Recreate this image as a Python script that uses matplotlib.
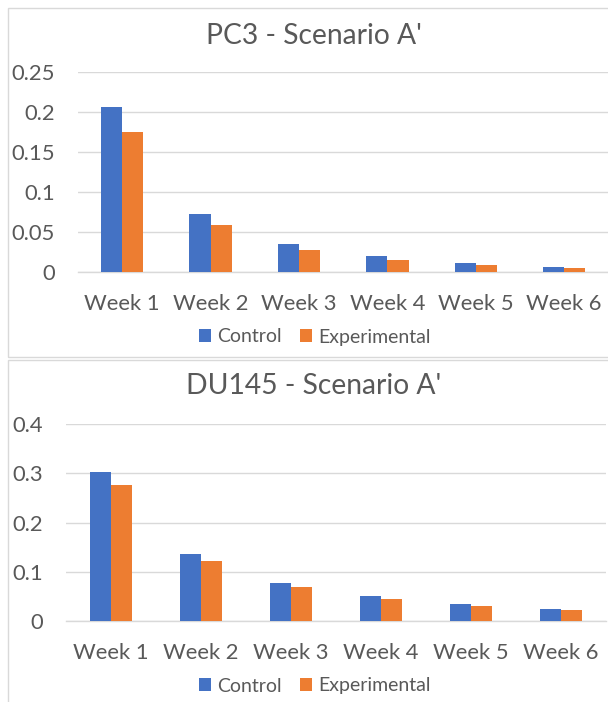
import numpy as np
import matplotlib
matplotlib.use("Agg")
import matplotlib.pyplot as plt
from matplotlib.patches import Rectangle

# -------- Data --------
weeks = ["Week 1", "Week 2", "Week 3", "Week 4", "Week 5", "Week 6"]
series_names = ["Control", "Experimental"]

pc3_control = [0.206, 0.0725, 0.0354, 0.020, 0.0117, 0.0070]
pc3_experimental = [0.175, 0.0588, 0.0280, 0.015, 0.0088, 0.0054]

du145_control = [0.303, 0.1365, 0.078, 0.051, 0.0358, 0.0257]
du145_experimental = [0.276, 0.122, 0.0696, 0.0446, 0.031, 0.0223]

pc3_ticks = [0, 0.05, 0.1, 0.15, 0.2, 0.25]
pc3_ticklabels = ["0", "0.05", "0.1", "0.15", "0.2", "0.25"]
du145_ticks = [0, 0.1, 0.2, 0.3, 0.4]
du145_ticklabels = ["0", "0.1", "0.2", "0.3", "0.4"]

# -------- Style --------
BLUE = "#4472C4"
ORANGE = "#ED7D31"
GRID = "#D9D9D9"
TEXT = "#595959"
plt.rcParams["font.family"] = ["Lato", "DejaVu Sans"]

W, H = 608, 702
fig = plt.figure(figsize=(W / 100, H / 100), dpi=100)


def px_axes(left, top, right, bottom):
    # pixel box (from top-left) -> figure fraction
    return fig.add_axes([left / W, 1 - bottom / H, (right - left) / W, (bottom - top) / H])


def draw_panel(ax, control, experimental, ticks, ticklabels, title, title_y, legend_y):
    x = np.arange(len(weeks))
    w = 0.2387
    ax.bar(x - w / 2, control, w, color=BLUE, label=series_names[0], zorder=3)
    ax.bar(x + w / 2, experimental, w, color=ORANGE, label=series_names[1], zorder=3)
    ax.set_xlim(-0.5, len(weeks) - 0.5)
    ax.set_ylim(0, ticks[-1])
    ax.set_yticks(ticks)
    ax.set_yticklabels(ticklabels)
    ax.set_xticks(x)
    ax.set_xticklabels(weeks)
    ax.yaxis.grid(True, color=GRID, linewidth=1.0, zorder=0)
    ax.set_axisbelow(True)
    for s in ["top", "right", "left"]:
        ax.spines[s].set_visible(False)
    ax.spines["bottom"].set_color(GRID)
    ax.spines["bottom"].set_linewidth(1.0)
    ax.tick_params(axis="both", length=0, colors=TEXT, labelsize=15.8)
    ax.tick_params(axis="y", pad=16.5)
    ax.tick_params(axis="x", pad=15.5)
    fig.text(314 / W, 1 - title_y / H, title, ha="center", va="center",
             fontsize=20.3, color=TEXT)
    leg = ax.legend(loc="center", bbox_to_anchor=(315 / W, 1 - legend_y / H),
                    bbox_transform=fig.transFigure, ncol=2, frameon=False,
                    fontsize=14, handlelength=0.62, handleheight=0.62,
                    handletextpad=0.3, columnspacing=0.95, borderaxespad=0)
    for t in leg.get_texts():
        t.set_color(TEXT)


# -------- Panel frames --------
fig.patches.append(Rectangle((8 / W, 1 - 357.3 / H), 700 / W, 349.3 / H,
                             transform=fig.transFigure, fill=False,
                             edgecolor=GRID, linewidth=1.0))
fig.patches.append(Rectangle((8 / W, 1 - 760 / H), 700 / W, 399.7 / H,
                             transform=fig.transFigure, fill=False,
                             edgecolor=GRID, linewidth=1.0))

# -------- Top: PC3 --------
ax1 = px_axes(78, 72, 608.4, 272.3)
draw_panel(ax1, pc3_control, pc3_experimental, pc3_ticks, pc3_ticklabels,
           "PC3 - Scenario A'", 35.5, 337)

# -------- Bottom: DU145 --------
ax2 = px_axes(66, 424, 606, 621.3)
draw_panel(ax2, du145_control, du145_experimental, du145_ticks, du145_ticklabels,
           "DU145 - Scenario A'", 386.5, 686)

plt.savefig("out.png", dpi=100)
